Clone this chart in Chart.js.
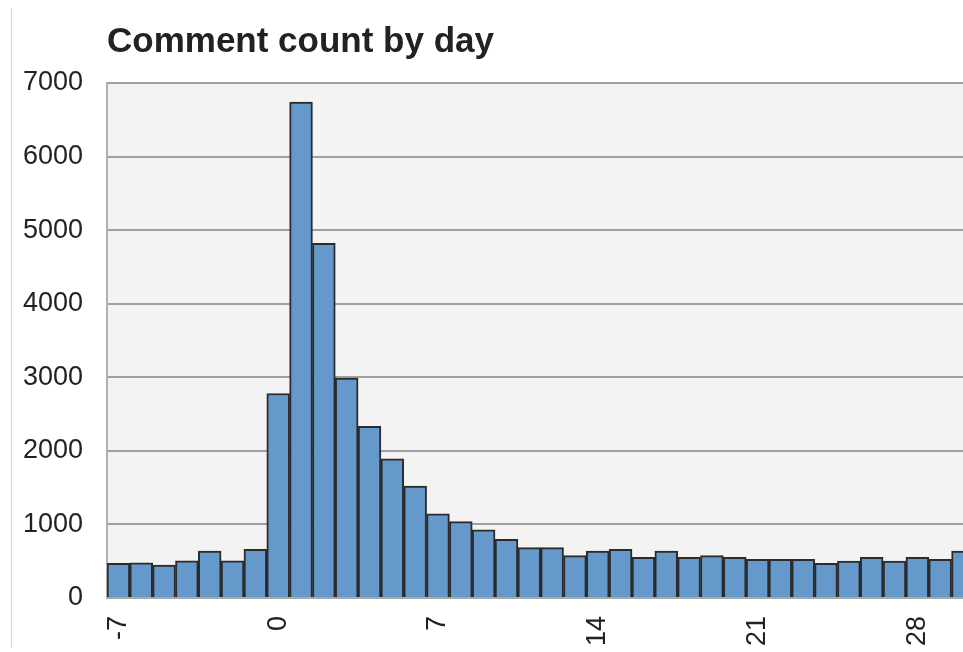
<!DOCTYPE html>
<html>
<head>
<meta charset="utf-8">
<script src="https://cdn.jsdelivr.net/npm/chart.js@4"></script>
<style>
html,body{margin:0;padding:0;background:#fff;overflow:hidden;}
#wrap{position:relative;width:963px;height:652px;}
#edge{position:absolute;left:11px;top:8px;width:1px;height:640px;background:#d8d8d8;}
canvas{position:absolute;left:0;top:0;}
</style>
</head>
<body>
<div id="wrap">
<canvas id="c" width="963" height="652"></canvas>
<div id="edge"></div>
</div>
<script>
const titleText = "Comment count by day";
const days = [-7,-6,-5,-4,-3,-2,-1,0,1,2,3,4,5,6,7,8,9,10,11,12,13,14,15,16,17,18,19,20,21,22,23,24,25,26,27,28,29,30];
const counts = [470,478,447,505,637,505,660,2780,6740,4820,2990,2333,1891,1522,1143,1038,925,798,684,684,576,639,662,553,639,553,576,553,526,526,526,472,503,553,503,553,526,639];
const xTickValues = [-7,0,7,14,21,28];
const yMax = 7000;
const yStep = 1000;

const bgPlugin = {
  id: 'plotBg',
  beforeDraw(chart) {
    const a = chart.chartArea, ctx = chart.ctx;
    ctx.save();
    ctx.fillStyle = '#f3f3f3';
    ctx.fillRect(a.left, a.top, a.right - a.left, a.bottom - a.top);
    ctx.restore();
  }
};

new Chart(document.getElementById('c'), {
  type: 'bar',
  data: {
    datasets: [{
      data: days.map((d, i) => ({x: d, y: counts[i]})),
      backgroundColor: '#6599cb',
      borderColor: '#2b2b2b',
      borderWidth: 2,
      barPercentage: 1,
      categoryPercentage: 1
    }]
  },
  options: {
    responsive: false,
    animation: false,
    devicePixelRatio: 1,
    layout: {padding: {left: 23, right: 0, top: 0, bottom: 4}},
    plugins: {
      legend: {display: false},
      tooltip: {enabled: false},
      title: {
        display: true,
        text: titleText,
        align: 'start',
        fullSize: false,
        color: '#222',
        font: {family: 'Liberation Sans, Arial, sans-serif', size: 35, weight: 'bold'},
        padding: {top: 21, bottom: 20}
      }
    },
    scales: {
      x: {
        type: 'linear',
        min: -7.5,
        max: 30,
        offset: false,
        afterBuildTicks(scale) { scale.ticks = xTickValues.map(v => ({value: v})); },
        afterFit(scale) { scale.height = 50; scale.paddingLeft = 0; scale.paddingRight = 0; },
        ticks: {
          minRotation: 90, maxRotation: 90,
          autoSkip: false,
          padding: 18,
          color: '#222',
          font: {family: 'Liberation Sans, Arial, sans-serif', size: 27},
          callback: v => String(v)
        },
        grid: {display: true, drawOnChartArea: false, drawTicks: false},
        border: {display: true, color: '#a8a8a8', width: 2}
      },
      y: {
        min: 0,
        max: yMax,
        afterFit(scale) { scale.width = 84; scale.paddingTop = 0; scale.paddingBottom = 0; },
        ticks: {
          stepSize: yStep,
          padding: 24,
          color: '#222',
          font: {family: 'Liberation Sans, Arial, sans-serif', size: 27},
          callback: v => String(v)
        },
        grid: {color: '#a0a0a0', lineWidth: 2, drawTicks: false},
        border: {display: true, color: '#b0b0b0', width: 2}
      }
    }
  },
  plugins: [bgPlugin]
});
</script>
</body>
</html>
